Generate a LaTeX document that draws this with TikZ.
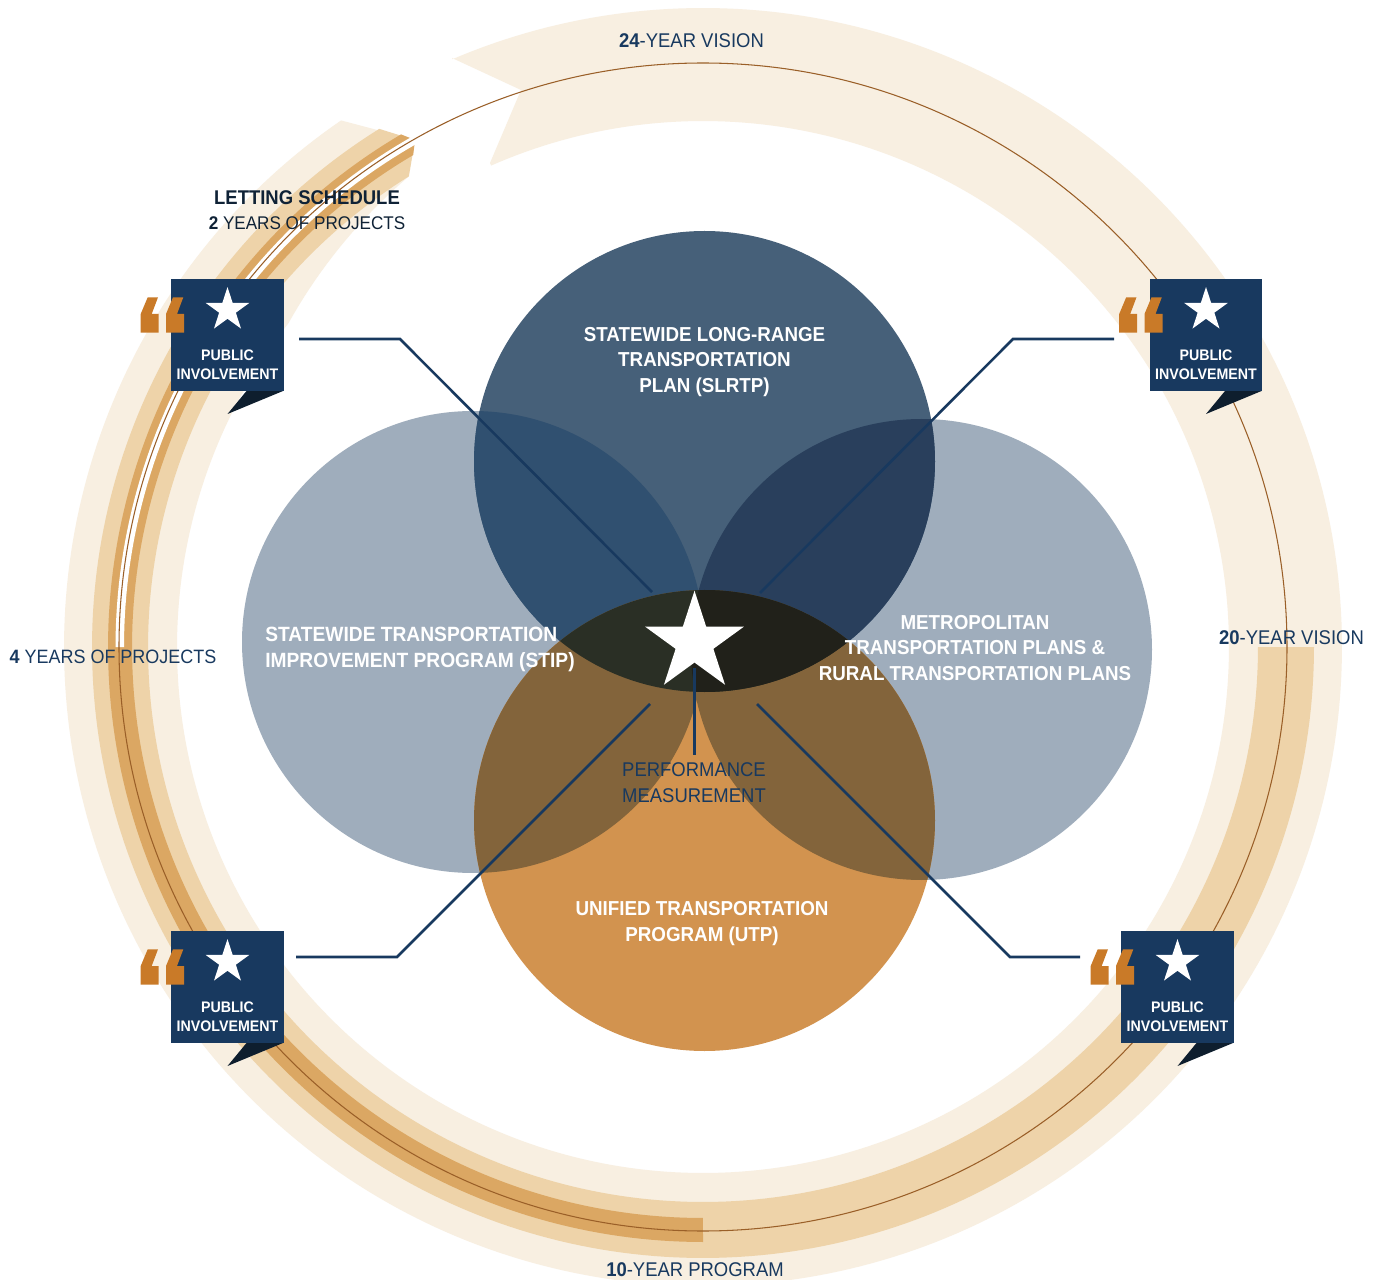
\documentclass[tikz,border=0pt]{standalone}
\usepackage{fontspec}
\setmainfont{Liberation Sans}[FakeStretch=0.93]
\usetikzlibrary{shapes.geometric}
\definecolor{bandA}{HTML}{F8EFE1}
\definecolor{bandB}{HTML}{EED3A9}
\definecolor{bandC}{HTML}{DBA763}
\definecolor{ringline}{HTML}{9A5F28}
\definecolor{navy}{HTML}{18395F}
\definecolor{ink}{HTML}{0F2236}
\definecolor{foldc}{HTML}{0E1E2E}
\definecolor{quotec}{HTML}{C97A28}
\definecolor{slate}{HTML}{9FADBC}
\definecolor{deep}{HTML}{466079}
\definecolor{ochre}{HTML}{D2934F}
\definecolor{tlcol}{HTML}{305070}
\definecolor{trcol}{HTML}{293F5C}
\definecolor{brn}{HTML}{83643B}
\definecolor{lensa}{HTML}{2A2F25}
\definecolor{lensb}{HTML}{21211A}
\tikzset{
  x=0.02cm,y=-0.02cm,
  declare function={rx(\r,\a)=703+\r*cos(\a); ry(\r,\a)=647-\r*sin(\a);},
  biglabel/.style={font=\fontsize{11.5pt}{14.5pt}\selectfont\bfseries,text=white,inner sep=0,align=center},
  ringlabel/.style={font=\fontsize{11.3pt}{14.5pt}\selectfont,text=navy,inner sep=0,align=center},
  boxlabel/.style={font=\fontsize{8.7pt}{10.8pt}\selectfont\bfseries,text=white,inner sep=0,align=center},
  connector/.style={draw=navy,line width=1.45pt,line join=miter},
  whitestar/.style={star,star points=5,star point ratio=2.618,fill=white,draw=none,inner sep=0,shape border rotate=0},
  box/.style={rectangle,fill=navy,draw=none,inner sep=0,minimum width=2.26cm,minimum height=2.24cm}
}
\newcommand{\piboxat}[3]{%
  \begin{scope}[shift={(#2,#3)}]
    \fill[foldc] (55.5,56) -- (19,56) -- (0,79) -- cycle;
    \node[box] (#1) at (0,0) {};
    \node[whitestar,minimum size=0.92cm] (#1star) at (0,-25) {};
    \node[boxlabel] (#1text) at (0,29.5) {PUBLIC\\INVOLVEMENT};
    \fill[quotec] (-86.8,-2.3) -- (-86.8,-21) -- (-79.8,-37.7) -- (-69.5,-37.7) -- (-75.8,-21) -- (-68.8,-21) -- (-68.8,-2.3) -- cycle;
    \fill[quotec] (-61.5,-2.3) -- (-61.5,-21) -- (-54.5,-37.7) -- (-44.2,-37.7) -- (-50.5,-21) -- (-43.5,-21) -- (-43.5,-2.3) -- cycle;
  \end{scope}}
\begin{document}
\begin{tikzpicture}
\useasboundingbox (0,0) rectangle (1377,1280);
\fill[white] (0,0) rectangle (1377,1280);
\clip (0,0) rectangle (1377,1280);
% 24-year band
\fill[bandA] (521,90) -- (452,58)
  -- plot[domain=113.08:-235.5,samples=350] ({rx(639,\x)},{ry(639,\x)})
  -- (415,140) -- (408,175)
  -- plot[domain=122:142,samples=20] ({rx(555-29*(\x-122)/20,\x)},{ry(555-29*(\x-122)/20,\x)})
  -- plot[domain=142:473.75,samples=330] ({rx(526,\x)},{ry(526,\x)})
  -- (490,163) -- cycle;
% 20-year band
\fill[bandB] plot[domain=0:-238,samples=240] ({rx(611,\x)},{ry(611,\x)})
  -- (415,140)
  -- plot[domain=-238:0,samples=240] ({rx(555,\x)},{ry(555,\x)}) -- cycle;
% 10-year band
\fill[bandC] plot[domain=-90:-239.5,samples=150] ({rx(595,\x)},{ry(595,\x)})
  -- (415,140)
  -- plot[domain=-239.5:-90,samples=150] ({rx(571,\x)},{ry(571,\x)}) -- cycle;
% 2-year white stripe
\fill[white] plot[domain=180:119.4,samples=60] ({rx(587.5,\x)},{ry(587.5,\x)})
  -- plot[domain=119.4:180,samples=60] ({rx(579,\x)},{ry(579,\x)}) -- cycle;
\draw[ringline,line width=0.6pt] (703,647) circle[radius=584];
% overlapping circles
\fill[slate] (473,642) circle[radius=231];
\fill[slate] (921.5,649.5) circle[radius=230.5];
\fill[ochre] (704.5,820.5) circle[radius=230.5];
\fill[deep] (704.5,461.5) circle[radius=230.5];
\begin{scope}
  \clip (473,642) circle[radius=231];
  \fill[tlcol] (704.5,461.5) circle[radius=230.5];
  \fill[brn] (704.5,820.5) circle[radius=230.5];
\end{scope}
\begin{scope}
  \clip (921.5,649.5) circle[radius=230.5];
  \fill[trcol] (704.5,461.5) circle[radius=230.5];
  \fill[brn] (704.5,820.5) circle[radius=230.5];
\end{scope}
\begin{scope}
  \clip (704.5,461.5) circle[radius=230.5];
  \fill[lensa] (704.5,820.5) circle[radius=230.5];
  \clip (704.5,820.5) circle[radius=230.5];
  \fill[lensb] (921.5,649.5) circle[radius=230.5];
\end{scope}
% labels in circles
\node[biglabel] (slrtp) at (704.5,362) {STATEWIDE LONG-RANGE\\TRANSPORTATION\\PLAN (SLRTP)};
\node[biglabel,font=\fontsize{11.75pt}{14.5pt}\selectfont\bfseries,align=left,anchor=west] (stip) at (265,649.5) {STATEWIDE TRANSPORTATION\\IMPROVEMENT PROGRAM (STIP)};
\node[biglabel] (metro) at (975,648) {METROPOLITAN\\TRANSPORTATION PLANS \&\\RURAL TRANSPORTATION PLANS};
\node[biglabel] (utp) at (702,923.5) {UNIFIED TRANSPORTATION\\PROGRAM (UTP)};
% hub
\coordinate (hubtl) at (652,592);
\coordinate (hubtr) at (760,593);
\coordinate (hubbl) at (650,704);
\coordinate (hubbr) at (757,704);
\coordinate (hubb) at (694.5,668);
\coordinate (perftop) at (694.5,755);
\coordinate (tlstart) at (299,339);
\coordinate (tlbend) at (400,339);
\coordinate (trstart) at (1114,339);
\coordinate (trbend) at (1013,339);
\coordinate (blstart) at (296,957);
\coordinate (blbend) at (397,957);
\coordinate (brstart) at (1080,957);
\coordinate (brbend) at (1010,957);
\draw[connector] (tlstart) -- (tlbend) -- (hubtl);
\draw[connector] (trstart) -- (trbend) -- (hubtr);
\draw[connector] (blstart) -- (blbend) -- (hubbl);
\draw[connector] (brstart) -- (brbend) -- (hubbr);
\node[whitestar,minimum size=2.08cm] (hub) at (694.5,642.7) {};
\draw[connector] (hubb) -- (perftop);
\node[ringlabel] (perf) at (694,782.5) {PERFORMANCE\\MEASUREMENT};
% boxes
\piboxat{boxtl}{227.5}{335}
\piboxat{boxtr}{1206}{335}
\piboxat{boxbl}{227.5}{987}
\piboxat{boxbr}{1177.5}{987}
% ring labels
\node[ringlabel] (v24) at (691.5,41) {\textbf{24}-YEAR VISION};
\node[ringlabel] (v20) at (1291.5,637.5) {\textbf{20}-YEAR VISION};
\node[ringlabel] (p10) at (695,1270) {\textbf{10}-YEAR PROGRAM};
\node[ringlabel,font=\fontsize{11pt}{14.5pt}\selectfont] (y4) at (113,657) {\textbf{4} YEARS OF PROJECTS};
\node[ringlabel,text=ink] (letting) at (307,197.5) {\textbf{LETTING SCHEDULE}};
\node[ringlabel,text=ink,font=\fontsize{10.45pt}{14.5pt}\selectfont] (years2) at (307,223) {\textbf{2} YEARS OF PROJECTS};
\end{tikzpicture}
\end{document}
